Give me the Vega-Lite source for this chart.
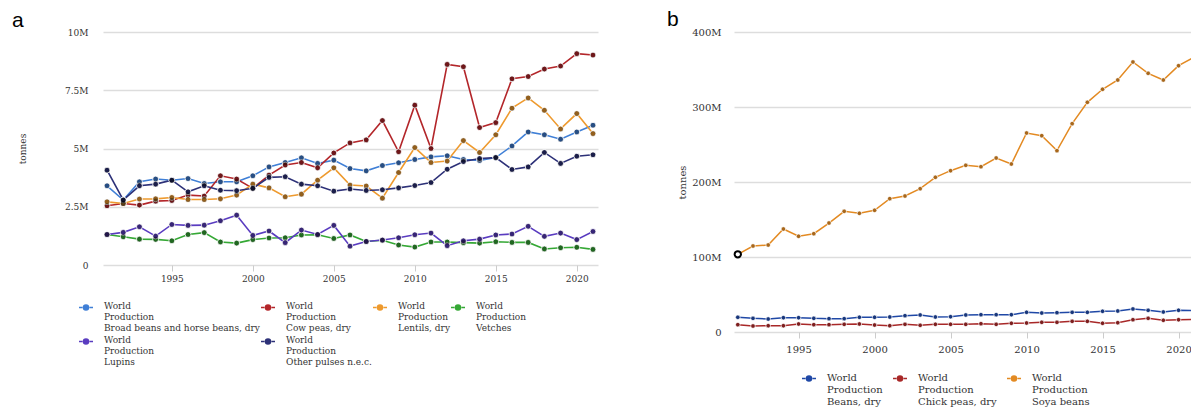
{
"$schema": "https://vega.github.io/schema/vega-lite/v6.json",
"background": "white",
"padding": {"left": 12, "top": 9, "right": 0, "bottom": 0},
"spacing": 69,
"config": {"view": {"stroke": null}, "font": "DejaVu Serif"},
"resolve": {"scale": {"color": "independent"}, "legend": {"color": "independent"}},
"datasets": {
"dataA": [
{"year":1991,"item":"Broad beans and horse beans, dry","value":3.40},{"year":1992,"item":"Broad beans and horse beans, dry","value":2.79},{"year":1993,"item":"Broad beans and horse beans, dry","value":3.57},{"year":1994,"item":"Broad beans and horse beans, dry","value":3.69},{"year":1995,"item":"Broad beans and horse beans, dry","value":3.64},{"year":1996,"item":"Broad beans and horse beans, dry","value":3.71},{"year":1997,"item":"Broad beans and horse beans, dry","value":3.50},{"year":1998,"item":"Broad beans and horse beans, dry","value":3.57},{"year":1999,"item":"Broad beans and horse beans, dry","value":3.57},{"year":2000,"item":"Broad beans and horse beans, dry","value":3.83},{"year":2001,"item":"Broad beans and horse beans, dry","value":4.21},{"year":2002,"item":"Broad beans and horse beans, dry","value":4.40},{"year":2003,"item":"Broad beans and horse beans, dry","value":4.60},{"year":2004,"item":"Broad beans and horse beans, dry","value":4.36},{"year":2005,"item":"Broad beans and horse beans, dry","value":4.50},{"year":2006,"item":"Broad beans and horse beans, dry","value":4.14},{"year":2007,"item":"Broad beans and horse beans, dry","value":4.04},{"year":2008,"item":"Broad beans and horse beans, dry","value":4.27},{"year":2009,"item":"Broad beans and horse beans, dry","value":4.39},{"year":2010,"item":"Broad beans and horse beans, dry","value":4.53},{"year":2011,"item":"Broad beans and horse beans, dry","value":4.64},{"year":2012,"item":"Broad beans and horse beans, dry","value":4.69},{"year":2013,"item":"Broad beans and horse beans, dry","value":4.53},{"year":2014,"item":"Broad beans and horse beans, dry","value":4.49},{"year":2015,"item":"Broad beans and horse beans, dry","value":4.61},{"year":2016,"item":"Broad beans and horse beans, dry","value":5.11},{"year":2017,"item":"Broad beans and horse beans, dry","value":5.71},{"year":2018,"item":"Broad beans and horse beans, dry","value":5.59},{"year":2019,"item":"Broad beans and horse beans, dry","value":5.40},{"year":2020,"item":"Broad beans and horse beans, dry","value":5.71},{"year":2021,"item":"Broad beans and horse beans, dry","value":6.00},
{"year":1991,"item":"Cow peas, dry","value":2.54},{"year":1992,"item":"Cow peas, dry","value":2.64},{"year":1993,"item":"Cow peas, dry","value":2.57},{"year":1994,"item":"Cow peas, dry","value":2.74},{"year":1995,"item":"Cow peas, dry","value":2.77},{"year":1996,"item":"Cow peas, dry","value":3.00},{"year":1997,"item":"Cow peas, dry","value":2.96},{"year":1998,"item":"Cow peas, dry","value":3.83},{"year":1999,"item":"Cow peas, dry","value":3.69},{"year":2000,"item":"Cow peas, dry","value":3.29},{"year":2001,"item":"Cow peas, dry","value":3.86},{"year":2002,"item":"Cow peas, dry","value":4.29},{"year":2003,"item":"Cow peas, dry","value":4.40},{"year":2004,"item":"Cow peas, dry","value":4.17},{"year":2005,"item":"Cow peas, dry","value":4.81},{"year":2006,"item":"Cow peas, dry","value":5.24},{"year":2007,"item":"Cow peas, dry","value":5.37},{"year":2008,"item":"Cow peas, dry","value":6.20},{"year":2009,"item":"Cow peas, dry","value":4.86},{"year":2010,"item":"Cow peas, dry","value":6.86},{"year":2011,"item":"Cow peas, dry","value":5.00},{"year":2012,"item":"Cow peas, dry","value":8.61},{"year":2013,"item":"Cow peas, dry","value":8.51},{"year":2014,"item":"Cow peas, dry","value":5.90},{"year":2015,"item":"Cow peas, dry","value":6.11},{"year":2016,"item":"Cow peas, dry","value":7.99},{"year":2017,"item":"Cow peas, dry","value":8.09},{"year":2018,"item":"Cow peas, dry","value":8.41},{"year":2019,"item":"Cow peas, dry","value":8.54},{"year":2020,"item":"Cow peas, dry","value":9.07},{"year":2021,"item":"Cow peas, dry","value":9.01},
{"year":1991,"item":"Lentils, dry","value":2.71},{"year":1992,"item":"Lentils, dry","value":2.64},{"year":1993,"item":"Lentils, dry","value":2.83},{"year":1994,"item":"Lentils, dry","value":2.84},{"year":1995,"item":"Lentils, dry","value":2.90},{"year":1996,"item":"Lentils, dry","value":2.81},{"year":1997,"item":"Lentils, dry","value":2.81},{"year":1998,"item":"Lentils, dry","value":2.84},{"year":1999,"item":"Lentils, dry","value":3.00},{"year":2000,"item":"Lentils, dry","value":3.47},{"year":2001,"item":"Lentils, dry","value":3.31},{"year":2002,"item":"Lentils, dry","value":2.93},{"year":2003,"item":"Lentils, dry","value":3.04},{"year":2004,"item":"Lentils, dry","value":3.64},{"year":2005,"item":"Lentils, dry","value":4.17},{"year":2006,"item":"Lentils, dry","value":3.43},{"year":2007,"item":"Lentils, dry","value":3.39},{"year":2008,"item":"Lentils, dry","value":2.87},{"year":2009,"item":"Lentils, dry","value":3.97},{"year":2010,"item":"Lentils, dry","value":5.04},{"year":2011,"item":"Lentils, dry","value":4.40},{"year":2012,"item":"Lentils, dry","value":4.46},{"year":2013,"item":"Lentils, dry","value":5.34},{"year":2014,"item":"Lentils, dry","value":4.83},{"year":2015,"item":"Lentils, dry","value":5.59},{"year":2016,"item":"Lentils, dry","value":6.73},{"year":2017,"item":"Lentils, dry","value":7.17},{"year":2018,"item":"Lentils, dry","value":6.64},{"year":2019,"item":"Lentils, dry","value":5.84},{"year":2020,"item":"Lentils, dry","value":6.50},{"year":2021,"item":"Lentils, dry","value":5.64},
{"year":1991,"item":"Vetches","value":1.31},{"year":1992,"item":"Vetches","value":1.21},{"year":1993,"item":"Vetches","value":1.11},{"year":1994,"item":"Vetches","value":1.10},{"year":1995,"item":"Vetches","value":1.04},{"year":1996,"item":"Vetches","value":1.31},{"year":1997,"item":"Vetches","value":1.39},{"year":1998,"item":"Vetches","value":0.99},{"year":1999,"item":"Vetches","value":0.94},{"year":2000,"item":"Vetches","value":1.09},{"year":2001,"item":"Vetches","value":1.16},{"year":2002,"item":"Vetches","value":1.17},{"year":2003,"item":"Vetches","value":1.29},{"year":2004,"item":"Vetches","value":1.30},{"year":2005,"item":"Vetches","value":1.14},{"year":2006,"item":"Vetches","value":1.29},{"year":2007,"item":"Vetches","value":1.01},{"year":2008,"item":"Vetches","value":1.06},{"year":2009,"item":"Vetches","value":0.86},{"year":2010,"item":"Vetches","value":0.77},{"year":2011,"item":"Vetches","value":0.99},{"year":2012,"item":"Vetches","value":0.99},{"year":2013,"item":"Vetches","value":0.96},{"year":2014,"item":"Vetches","value":0.94},{"year":2015,"item":"Vetches","value":1.00},{"year":2016,"item":"Vetches","value":0.97},{"year":2017,"item":"Vetches","value":0.97},{"year":2018,"item":"Vetches","value":0.69},{"year":2019,"item":"Vetches","value":0.74},{"year":2020,"item":"Vetches","value":0.76},{"year":2021,"item":"Vetches","value":0.67},
{"year":1991,"item":"Lupins","value":1.31},{"year":1992,"item":"Lupins","value":1.40},{"year":1993,"item":"Lupins","value":1.64},{"year":1994,"item":"Lupins","value":1.24},{"year":1995,"item":"Lupins","value":1.74},{"year":1996,"item":"Lupins","value":1.70},{"year":1997,"item":"Lupins","value":1.71},{"year":1998,"item":"Lupins","value":1.90},{"year":1999,"item":"Lupins","value":2.14},{"year":2000,"item":"Lupins","value":1.27},{"year":2001,"item":"Lupins","value":1.46},{"year":2002,"item":"Lupins","value":0.96},{"year":2003,"item":"Lupins","value":1.50},{"year":2004,"item":"Lupins","value":1.31},{"year":2005,"item":"Lupins","value":1.70},{"year":2006,"item":"Lupins","value":0.81},{"year":2007,"item":"Lupins","value":1.01},{"year":2008,"item":"Lupins","value":1.07},{"year":2009,"item":"Lupins","value":1.17},{"year":2010,"item":"Lupins","value":1.30},{"year":2011,"item":"Lupins","value":1.37},{"year":2012,"item":"Lupins","value":0.83},{"year":2013,"item":"Lupins","value":1.04},{"year":2014,"item":"Lupins","value":1.11},{"year":2015,"item":"Lupins","value":1.29},{"year":2016,"item":"Lupins","value":1.33},{"year":2017,"item":"Lupins","value":1.66},{"year":2018,"item":"Lupins","value":1.23},{"year":2019,"item":"Lupins","value":1.37},{"year":2020,"item":"Lupins","value":1.09},{"year":2021,"item":"Lupins","value":1.44},
{"year":1991,"item":"Other pulses n.e.c.","value":4.07},{"year":1992,"item":"Other pulses n.e.c.","value":2.79},{"year":1993,"item":"Other pulses n.e.c.","value":3.40},{"year":1994,"item":"Other pulses n.e.c.","value":3.47},{"year":1995,"item":"Other pulses n.e.c.","value":3.64},{"year":1996,"item":"Other pulses n.e.c.","value":3.14},{"year":1997,"item":"Other pulses n.e.c.","value":3.40},{"year":1998,"item":"Other pulses n.e.c.","value":3.21},{"year":1999,"item":"Other pulses n.e.c.","value":3.19},{"year":2000,"item":"Other pulses n.e.c.","value":3.29},{"year":2001,"item":"Other pulses n.e.c.","value":3.76},{"year":2002,"item":"Other pulses n.e.c.","value":3.79},{"year":2003,"item":"Other pulses n.e.c.","value":3.47},{"year":2004,"item":"Other pulses n.e.c.","value":3.40},{"year":2005,"item":"Other pulses n.e.c.","value":3.17},{"year":2006,"item":"Other pulses n.e.c.","value":3.26},{"year":2007,"item":"Other pulses n.e.c.","value":3.20},{"year":2008,"item":"Other pulses n.e.c.","value":3.23},{"year":2009,"item":"Other pulses n.e.c.","value":3.31},{"year":2010,"item":"Other pulses n.e.c.","value":3.41},{"year":2011,"item":"Other pulses n.e.c.","value":3.54},{"year":2012,"item":"Other pulses n.e.c.","value":4.11},{"year":2013,"item":"Other pulses n.e.c.","value":4.44},{"year":2014,"item":"Other pulses n.e.c.","value":4.57},{"year":2015,"item":"Other pulses n.e.c.","value":4.61},{"year":2016,"item":"Other pulses n.e.c.","value":4.10},{"year":2017,"item":"Other pulses n.e.c.","value":4.21},{"year":2018,"item":"Other pulses n.e.c.","value":4.83},{"year":2019,"item":"Other pulses n.e.c.","value":4.36},{"year":2020,"item":"Other pulses n.e.c.","value":4.67},{"year":2021,"item":"Other pulses n.e.c.","value":4.73}
],
"dataB": [
{"year":1991,"item":"Beans, dry","value":19.6},{"year":1992,"item":"Beans, dry","value":18.2},{"year":1993,"item":"Beans, dry","value":17.3},{"year":1994,"item":"Beans, dry","value":19.1},{"year":1995,"item":"Beans, dry","value":19.1},{"year":1996,"item":"Beans, dry","value":18.2},{"year":1997,"item":"Beans, dry","value":17.8},{"year":1998,"item":"Beans, dry","value":17.8},{"year":1999,"item":"Beans, dry","value":19.6},{"year":2000,"item":"Beans, dry","value":19.6},{"year":2001,"item":"Beans, dry","value":20.0},{"year":2002,"item":"Beans, dry","value":21.8},{"year":2003,"item":"Beans, dry","value":22.7},{"year":2004,"item":"Beans, dry","value":20.0},{"year":2005,"item":"Beans, dry","value":20.4},{"year":2006,"item":"Beans, dry","value":22.7},{"year":2007,"item":"Beans, dry","value":23.1},{"year":2008,"item":"Beans, dry","value":23.1},{"year":2009,"item":"Beans, dry","value":23.1},{"year":2010,"item":"Beans, dry","value":26.2},{"year":2011,"item":"Beans, dry","value":25.3},{"year":2012,"item":"Beans, dry","value":25.8},{"year":2013,"item":"Beans, dry","value":26.2},{"year":2014,"item":"Beans, dry","value":26.2},{"year":2015,"item":"Beans, dry","value":27.6},{"year":2016,"item":"Beans, dry","value":28.0},{"year":2017,"item":"Beans, dry","value":30.7},{"year":2018,"item":"Beans, dry","value":28.9},{"year":2019,"item":"Beans, dry","value":26.7},{"year":2020,"item":"Beans, dry","value":28.9},{"year":2021,"item":"Beans, dry","value":28.5},
{"year":1991,"item":"Chick peas, dry","value":9.8},{"year":1992,"item":"Chick peas, dry","value":8.0},{"year":1993,"item":"Chick peas, dry","value":8.4},{"year":1994,"item":"Chick peas, dry","value":8.4},{"year":1995,"item":"Chick peas, dry","value":10.7},{"year":1996,"item":"Chick peas, dry","value":9.8},{"year":1997,"item":"Chick peas, dry","value":9.8},{"year":1998,"item":"Chick peas, dry","value":10.2},{"year":1999,"item":"Chick peas, dry","value":10.7},{"year":2000,"item":"Chick peas, dry","value":9.3},{"year":2001,"item":"Chick peas, dry","value":8.4},{"year":2002,"item":"Chick peas, dry","value":10.2},{"year":2003,"item":"Chick peas, dry","value":8.9},{"year":2004,"item":"Chick peas, dry","value":10.2},{"year":2005,"item":"Chick peas, dry","value":10.2},{"year":2006,"item":"Chick peas, dry","value":10.2},{"year":2007,"item":"Chick peas, dry","value":11.1},{"year":2008,"item":"Chick peas, dry","value":10.2},{"year":2009,"item":"Chick peas, dry","value":11.6},{"year":2010,"item":"Chick peas, dry","value":12.0},{"year":2011,"item":"Chick peas, dry","value":12.9},{"year":2012,"item":"Chick peas, dry","value":12.9},{"year":2013,"item":"Chick peas, dry","value":14.2},{"year":2014,"item":"Chick peas, dry","value":14.2},{"year":2015,"item":"Chick peas, dry","value":11.6},{"year":2016,"item":"Chick peas, dry","value":12.4},{"year":2017,"item":"Chick peas, dry","value":16.4},{"year":2018,"item":"Chick peas, dry","value":18.2},{"year":2019,"item":"Chick peas, dry","value":15.6},{"year":2020,"item":"Chick peas, dry","value":16.4},{"year":2021,"item":"Chick peas, dry","value":16.9},
{"year":1991,"item":"Soya beans","value":103.6},{"year":1992,"item":"Soya beans","value":114.7},{"year":1993,"item":"Soya beans","value":116.0},{"year":1994,"item":"Soya beans","value":137.3},{"year":1995,"item":"Soya beans","value":127.6},{"year":1996,"item":"Soya beans","value":131.1},{"year":1997,"item":"Soya beans","value":145.3},{"year":1998,"item":"Soya beans","value":160.9},{"year":1999,"item":"Soya beans","value":158.2},{"year":2000,"item":"Soya beans","value":162.2},{"year":2001,"item":"Soya beans","value":177.8},{"year":2002,"item":"Soya beans","value":181.3},{"year":2003,"item":"Soya beans","value":191.1},{"year":2004,"item":"Soya beans","value":206.2},{"year":2005,"item":"Soya beans","value":215.1},{"year":2006,"item":"Soya beans","value":222.2},{"year":2007,"item":"Soya beans","value":220.4},{"year":2008,"item":"Soya beans","value":232.0},{"year":2009,"item":"Soya beans","value":224.0},{"year":2010,"item":"Soya beans","value":265.3},{"year":2011,"item":"Soya beans","value":261.8},{"year":2012,"item":"Soya beans","value":241.8},{"year":2013,"item":"Soya beans","value":277.8},{"year":2014,"item":"Soya beans","value":306.2},{"year":2015,"item":"Soya beans","value":323.6},{"year":2016,"item":"Soya beans","value":336.0},{"year":2017,"item":"Soya beans","value":360.0},{"year":2018,"item":"Soya beans","value":344.9},{"year":2019,"item":"Soya beans","value":336.0},{"year":2020,"item":"Soya beans","value":355.1},{"year":2021,"item":"Soya beans","value":366.0}
]
},
"hconcat": [
{
"width": 495,
"height": 233,
"title": {"text": "a", "anchor": "start", "frame": "group", "dx": -91, "fontSize": 21, "font": "Liberation Sans", "fontWeight": "normal", "color": "#000000", "offset": -3},
"data": {"name": "dataA"},
"encoding": {
"x": {"field": "year", "type": "quantitative", "scale": {"domain": [1990.75, 2021.31], "nice": false, "zero": false},
 "axis": {"values": [1995, 2000, 2005, 2010, 2015, 2020], "format": "d", "title": null, "grid": false, "domain": false, "ticks": true, "tickSize": 6, "tickColor": "#cccccc", "tickWidth": 1, "labelFont": "DejaVu Serif", "labelFontSize": 9, "labelColor": "#333333", "labelPadding": 3}},
"y": {"field": "value", "type": "quantitative", "scale": {"domain": [0, 10], "nice": false},
 "axis": {"values": [0, 2.5, 5, 7.5, 10], "labelExpr": "datum.value == 0 ? '0' : datum.value + 'M'", "title": "tonnes", "titleFont": "DejaVu Serif", "titleFontSize": 9, "titleFontWeight": "normal", "titleColor": "#333333", "titlePadding": 37, "grid": true, "gridColor": "#dddddd", "gridWidth": 1.5, "domain": false, "ticks": false, "labelFont": "DejaVu Serif", "labelFontSize": 9, "labelColor": "#333333", "labelPadding": 15}},
"color": {"field": "item", "type": "nominal",
  "scale": {"domain": ["Broad beans and horse beans, dry", "Cow peas, dry", "Lentils, dry", "Vetches", "Lupins", "Other pulses n.e.c."], "range": ["#3f7fd6", "#b3262a", "#ee9a2e", "#35a835", "#5a3cc0", "#2d3178"]},
  "legend": {"orient": "none", "legendX": -25, "legendY": 262, "title": null, "direction": "horizontal", "columns": 4, "gridAlign": "none", "columnPadding": -2, "rowPadding": -5,
   "symbolType": "M-1,0.8H-0.5M0.5,0.8H1M-0.36,0.8A0.36,0.36,0,1,0,0.36,0.8A0.36,0.36,0,1,0,-0.36,0.8Z", "symbolSize": 196, "symbolStrokeWidth": 1.5,
   "labelFont": "DejaVu Serif", "labelFontSize": 9, "labelColor": "#333333", "labelBaseline": "top", "labelOffset": 10, "labelLimit": 400,
   "labelExpr": "['World', 'Production', datum.label]",
   "encode": {"labels": {"lineHeight": {"value": 12}}}}}
},
"layer": [
{"mark": {"type": "line", "strokeWidth": 1.6}},
{"mark": {"type": "point", "filled": true, "size": 32, "stroke": "white", "strokeWidth": 1, "opacity": 1}},
{"mark": {"type": "point", "filled": true, "size": 26, "strokeWidth": 0, "opacity": 0.38}, "encoding": {"color": {"value": "black"}}}
]
},
{
"width": 457,
"height": 300,
"title": {"text": "b", "anchor": "start", "frame": "group", "dx": -67, "fontSize": 21, "font": "Liberation Sans", "fontWeight": "normal", "color": "#000000", "offset": -3},
"data": {"name": "dataB"},
"encoding": {
"x": {"field": "year", "type": "quantitative", "scale": {"domain": [1990.75, 2020.82], "nice": false, "zero": false},
 "axis": {"values": [1995, 2000, 2005, 2010, 2015, 2020], "format": "d", "title": null, "grid": false, "domain": false, "ticks": true, "tickSize": 6, "tickColor": "#cccccc", "tickWidth": 1, "labelFont": "DejaVu Serif", "labelFontSize": 10, "labelColor": "#333333", "labelPadding": 6}},
"y": {"field": "value", "type": "quantitative", "scale": {"domain": [0, 400], "nice": false},
 "axis": {"values": [0, 100, 200, 300, 400], "labelExpr": "datum.value == 0 ? '0' : datum.value + 'M'", "title": "tonnes", "titleFont": "DejaVu Serif", "titleFontSize": 10, "titleFontWeight": "normal", "titleColor": "#333333", "titlePadding": 4, "grid": true, "gridColor": "#dddddd", "gridWidth": 1.5, "domain": false, "ticks": false, "labelFont": "DejaVu Serif", "labelFontSize": 10, "labelColor": "#333333", "labelPadding": 13}},
"color": {"field": "item", "type": "nominal",
  "scale": {"domain": ["Beans, dry", "Chick peas, dry", "Soya beans"], "range": ["#1f48a6", "#a82828", "#e38a22"]},
  "legend": {"orient": "none", "legendX": 67, "legendY": 333, "title": null, "direction": "horizontal", "columns": 3, "gridAlign": "none", "columnPadding": 7,
   "symbolType": "M-1,0.8H-0.5M0.5,0.8H1M-0.36,0.8A0.36,0.36,0,1,0,0.36,0.8A0.36,0.36,0,1,0,-0.36,0.8Z", "symbolSize": 196, "symbolStrokeWidth": 1.5,
   "labelFont": "DejaVu Serif", "labelFontSize": 10, "labelColor": "#333333", "labelBaseline": "top", "labelOffset": 10, "labelLimit": 400,
   "labelExpr": "['World', 'Production', datum.label]",
   "encode": {"labels": {"lineHeight": {"value": 13}}}}}
},
"layer": [
{"mark": {"type": "line", "strokeWidth": 1.5, "clip": true}},
{"mark": {"type": "point", "filled": true, "size": 20, "stroke": "white", "strokeWidth": 0.8, "opacity": 1, "clip": true}},
{"mark": {"type": "point", "filled": true, "size": 16, "strokeWidth": 0, "opacity": 0.25, "clip": true}, "encoding": {"color": {"value": "black"}}},
{"transform": [{"filter": "datum.item == 'Soya beans' && datum.year == 1991"}],
 "mark": {"type": "point", "filled": true, "size": 40, "fill": "white", "stroke": "black", "strokeWidth": 2, "opacity": 1}, "encoding": {"color": {"value": "white"}}}
]
}
]
}
